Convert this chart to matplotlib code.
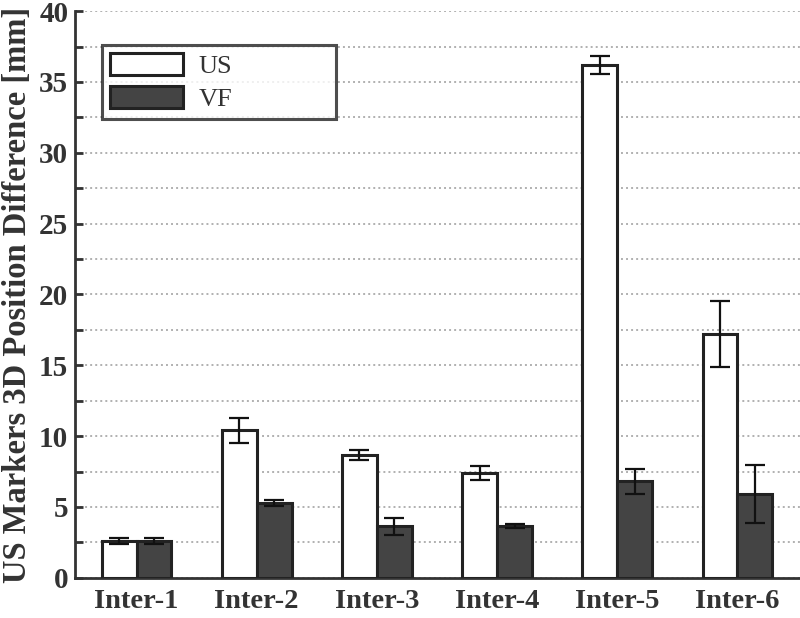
import matplotlib
matplotlib.use("Agg")
import matplotlib.pyplot as plt
import numpy as np
from matplotlib.ticker import MultipleLocator

categories = ["Inter-1", "Inter-2", "Inter-3", "Inter-4", "Inter-5", "Inter-6"]
us_mean = [2.6, 10.4, 8.7, 7.4, 36.2, 17.2]
us_err = [0.2, 0.9, 0.35, 0.5, 0.65, 2.35]
vf_mean = [2.6, 5.3, 3.65, 3.65, 6.8, 5.9]
vf_err = [0.2, 0.2, 0.6, 0.15, 0.85, 2.05]

plt.rcParams['font.family'] = ['Liberation Serif', 'DejaVu Serif']
fig = plt.figure(figsize=(8, 6.18), dpi=100)
ax = fig.add_axes([0.094, 0.065, 0.906, 0.917])

x = np.arange(1, len(categories) + 1)
w = 0.29
edge = '#222222'
ax.bar(x - w/2, us_mean, w, yerr=us_err, color='white', edgecolor=edge, linewidth=2.2,
       capsize=7, error_kw=dict(elinewidth=1.6, capthick=1.6, ecolor='#111111'), label='US', zorder=3)
ax.bar(x + w/2, vf_mean, w, yerr=vf_err, color='#444444', edgecolor=edge, linewidth=2.2,
       capsize=7, error_kw=dict(elinewidth=1.6, capthick=1.6, ecolor='#111111'), label='VF', zorder=3)

ax.set_xlim(0.49, 6.52)
ax.set_ylim(0, 40)
ax.set_xticks(x)
ax.set_xticklabels(categories, fontsize=20.5, fontweight='bold', color='#333333')
ax.yaxis.set_major_locator(MultipleLocator(5))
ax.yaxis.set_minor_locator(MultipleLocator(2.5))
for lab in ax.get_yticklabels():
    lab.set_fontsize(21)
    lab.set_fontweight('bold')
    lab.set_color('#333333')
ax.tick_params(axis='y', which='both', direction='in', length=6, width=2, color='#333333', pad=5)
ax.tick_params(axis='x', length=0, pad=8)
ax.grid(axis='y', which='both', linestyle=(0, (1, 1.6)), color='#b0b0b0', linewidth=1.4, zorder=0)
ax.set_axisbelow(True)
for s in ['top', 'right']:
    ax.spines[s].set_visible(False)
for s in ['left', 'bottom']:
    ax.spines[s].set_linewidth(2)
    ax.spines[s].set_color('#333333')
ax.set_ylabel('US Markers 3D Position Difference [mm]', fontsize=23.5, fontweight='bold', color='#333333', labelpad=4)

leg = ax.legend(loc='upper left', bbox_to_anchor=(0.037, 0.94, 0.323, 0.0), mode='expand',
                prop={'size': 19}, frameon=True, fancybox=False,
                handlelength=2.75, handleheight=0.9, borderpad=0.3, labelspacing=0.3, handletextpad=0.6,
                borderaxespad=0)
leg.get_frame().set_edgecolor('#222222')
leg.get_frame().set_linewidth(2.2)
for t in leg.get_texts():
    t.set_color('#333333')

fig.savefig('out.png', dpi=100)
